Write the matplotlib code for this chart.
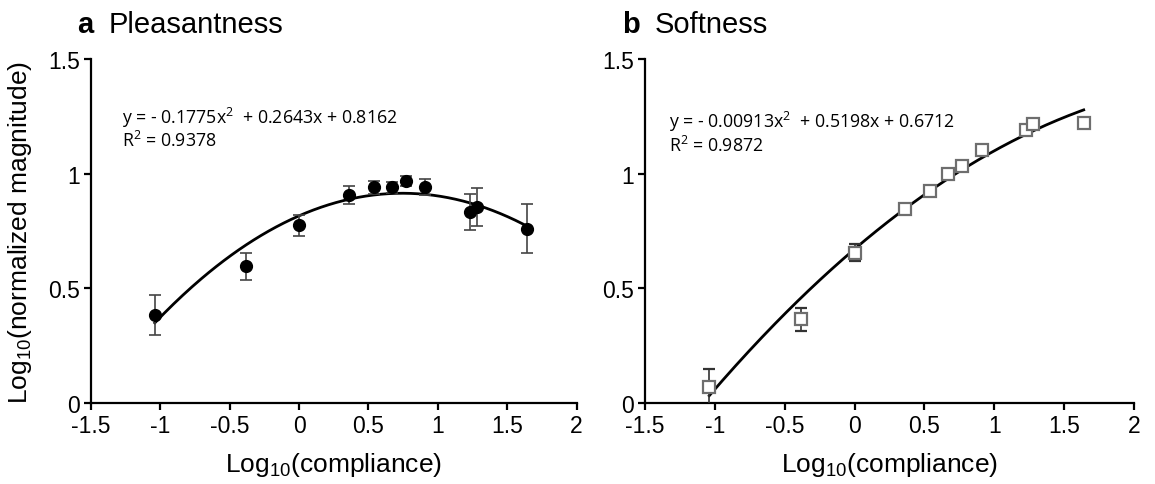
import numpy as np
import matplotlib
matplotlib.use('Agg')
import matplotlib.pyplot as plt

plt.rcParams['font.family'] = ['Liberation Sans', 'DejaVu Sans']
plt.rcParams['mathtext.default'] = 'regular'

# Log10(compliance) for the 11 stimuli
compliance = [-1.04, -0.38, 0.0, 0.36, 0.54, 0.67, 0.77, 0.91, 1.23, 1.28, 1.64]

# panel a: pleasantness
pleas_mean = [0.384, 0.596, 0.774, 0.906, 0.940, 0.940, 0.968, 0.942, 0.832, 0.855, 0.760]
pleas_err = [0.088, 0.060, 0.046, 0.040, 0.030, 0.025, 0.020, 0.035, 0.078, 0.083, 0.108]
pleas_fit = [-0.1775, 0.2643, 0.8162]

# panel b: softness
soft_mean = [0.069, 0.365, 0.656, 0.846, 0.924, 1.000, 1.034, 1.105, 1.190, 1.216, 1.222]
soft_err = [0.080, 0.050, 0.036, 0.012, 0.012, 0.010, 0.010, 0.010, 0.012, 0.012, 0.010]
soft_fit = [-0.0913, 0.5198, 0.6712]

pleas_eq = ['y = - 0.1775x$^{2}$  + 0.2643x + 0.8162', 'R$^{2}$ = 0.9378']
soft_eq = ['y = - 0.00913x$^{2}$  + 0.5198x + 0.6712', 'R$^{2}$ = 0.9872']

xticks = [-1.5, -1, -0.5, 0, 0.5, 1, 1.5, 2]
xticklabels = ['-1.5', '-1', '-0.5', '0', '0.5', '1', '1.5', '2']
yticks = [0, 0.5, 1, 1.5]
yticklabels = ['0', '0.5', '1', '1.5']

fig = plt.figure(figsize=(11.55, 4.85), dpi=100)
ax1 = fig.add_axes([91 / 1155, 81 / 485, 485.5 / 1155, 344 / 485])
ax2 = fig.add_axes([645 / 1155, 81 / 485, 489 / 1155, 344 / 485])


def style(ax):
    ax.set_xlim(-1.5, 2)
    ax.set_ylim(0, 1.5)
    for s in ['top', 'right']:
        ax.spines[s].set_visible(False)
    for s in ['left', 'bottom']:
        ax.spines[s].set_linewidth(1.6)
    ax.set_xticks(xticks)
    ax.set_xticklabels(xticklabels)
    ax.set_yticks(yticks)
    ax.set_yticklabels(yticklabels)
    ax.tick_params(direction='out', length=5, width=1.6, labelsize=16.5, pad=3)
    ax.set_xlabel('Log$_{10}$(compliance)', fontsize=19, labelpad=9)


eq_font = ['Open Sans', 'DejaVu Sans']

xs1 = np.linspace(compliance[0], compliance[-1], 200)
ax1.plot(xs1, np.polyval(pleas_fit, xs1), color='black', lw=2, zorder=2)
ax1.errorbar(compliance, pleas_mean, yerr=pleas_err, fmt='o', color='black',
             ms=8.5, ecolor='#444444', elinewidth=1.2, capsize=4, capthick=1.2, zorder=3)
ax1.text(-1.28, 1.249, pleas_eq[0], family=eq_font, fontsize=12.8, va='center')
ax1.text(-1.28, 1.148, pleas_eq[1], family=eq_font, fontsize=12.8, va='center')
style(ax1)
ax1.set_ylabel('Log$_{10}$(normalized magnitude)', fontsize=19, labelpad=10)

xs2 = np.linspace(compliance[0], compliance[-1], 200)
ax2.plot(xs2, np.polyval(soft_fit, xs2), color='black', lw=2, zorder=2)
ax2.errorbar(compliance, soft_mean, yerr=soft_err, fmt='s', mfc='white', mec='#6e6e6e',
             mew=1.6, ms=8, ecolor='#333333', elinewidth=1.2, capsize=4, capthick=1.2, zorder=3)
ax2.text(-1.33, 1.228, soft_eq[0], family=eq_font, fontsize=12.8, va='center')
ax2.text(-1.33, 1.127, soft_eq[1], family=eq_font, fontsize=12.8, va='center')
style(ax2)

ty = 1 - 25 / 485
fig.text(77 / 1155, ty, 'a', fontsize=21, fontweight='bold', va='center')
fig.text(109 / 1155, ty, 'Pleasantness', fontsize=21, va='center')
fig.text(622 / 1155, ty, 'b', fontsize=21, fontweight='bold', va='center')
fig.text(655 / 1155, ty, 'Softness', fontsize=21, va='center')

fig.savefig('out.png', dpi=100)
